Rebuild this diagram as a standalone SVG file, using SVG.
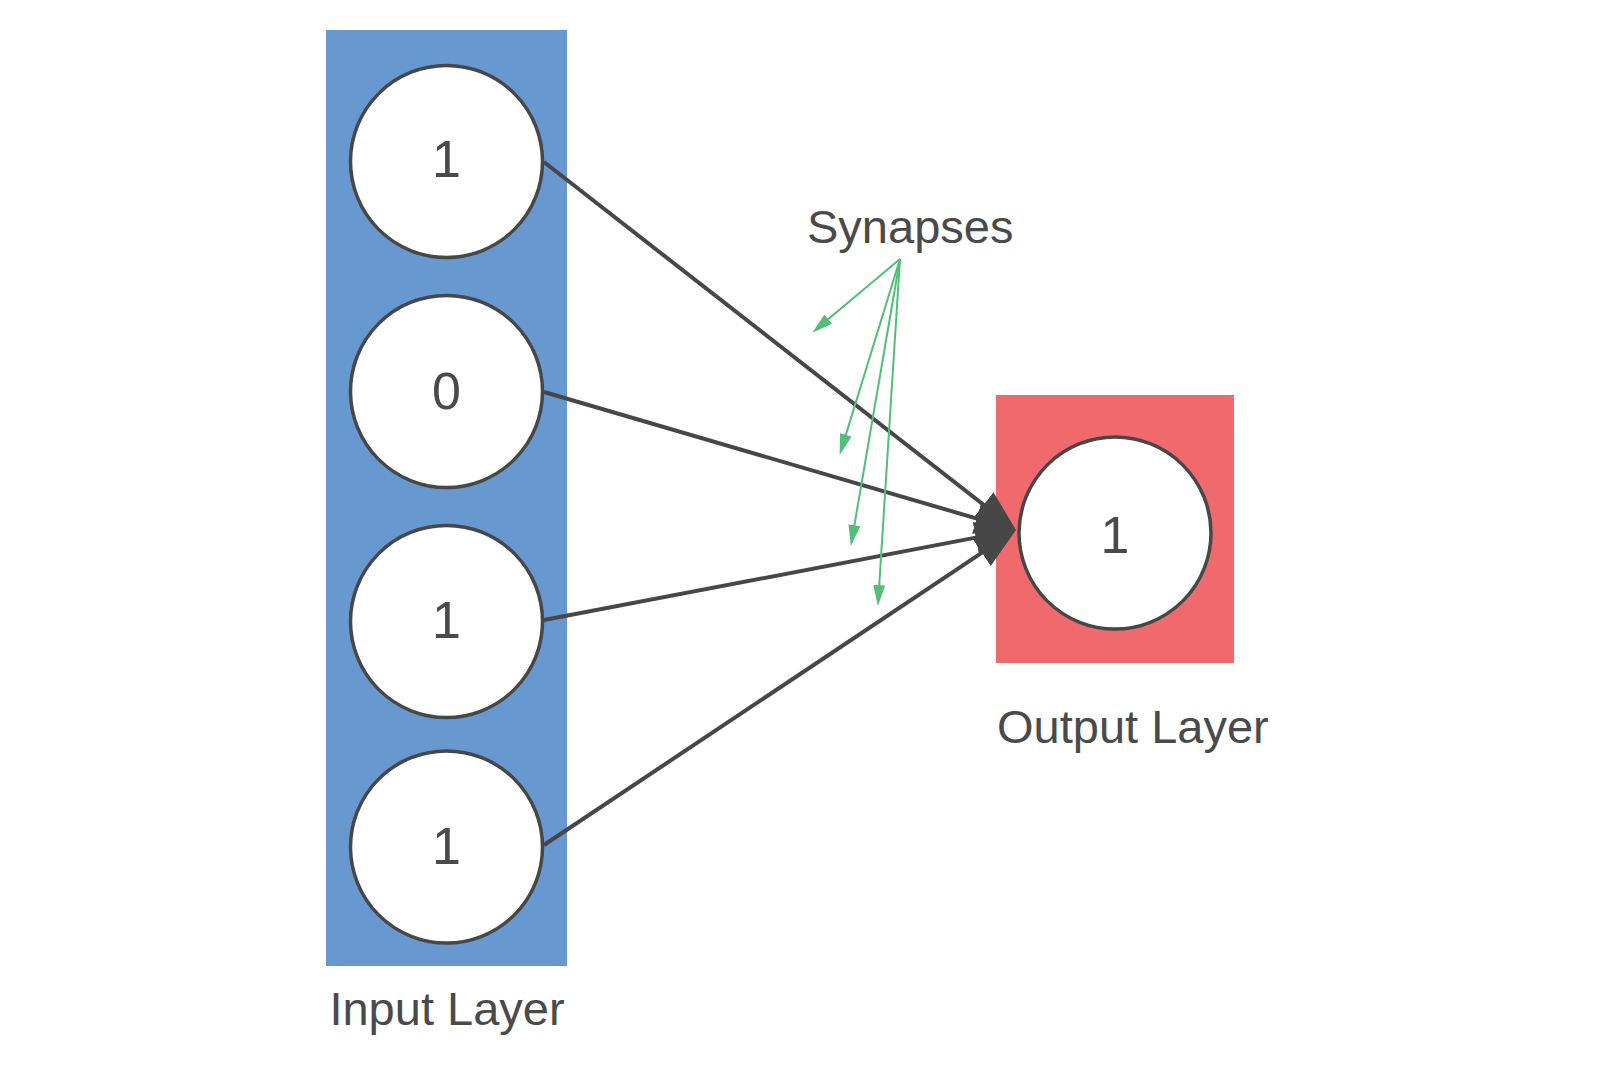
<svg xmlns="http://www.w3.org/2000/svg" width="1600" height="1066" viewBox="0 0 1600 1066">
<style>
.lbl{font-family:"Liberation Sans",Arial,sans-serif;fill:#4a4a4a}
.neuron{fill:#ffffff;stroke:#474747;stroke-width:3.5}
.num{font-size:52px;text-anchor:middle}
.layer{font-size:47px}
.edge{stroke:#474747;stroke-width:4;fill:none}
.syn{stroke:#52be78;stroke-width:2;fill:none}
</style>
<defs>
<marker id="ah" markerUnits="userSpaceOnUse" markerWidth="44" markerHeight="34" refX="20" refY="16" orient="auto">
<path d="M0,0 L41,16 L0,32 Z" fill="#474747"/>
</marker>
<marker id="gh" markerUnits="userSpaceOnUse" markerWidth="22" markerHeight="14" refX="10" refY="6" orient="auto">
<path d="M0,0 L21,6 L0,12 Z" fill="#52be78"/>
</marker>
</defs>
<rect width="1600" height="1066" fill="#ffffff"/>
<g id="input-layer">
<rect x="326" y="30" width="241" height="936" fill="#6798d0"/>
<text class="lbl layer" x="447" y="1025" text-anchor="middle">Input Layer</text>
</g>
<g id="output-layer">
<rect x="996" y="395" width="238" height="268" fill="#f06a6d"/>
<text class="lbl layer" x="997" y="743">Output Layer</text>
</g>
<g id="connectors">
<line class="edge" x1="544" y1="162" x2="999.4" y2="517.1" marker-end="url(#ah)"/>
<line class="edge" x1="544" y1="392" x2="995.8" y2="524.1" marker-end="url(#ah)"/>
<line class="edge" x1="544" y1="620" x2="995.4" y2="533.9" marker-end="url(#ah)"/>
<line class="edge" x1="544" y1="845" x2="998.5" y2="541.7" marker-end="url(#ah)"/>
<line class="syn" x1="900" y1="259" x2="820.7" y2="325.6" marker-end="url(#gh)"/>
<line class="syn" x1="900" y1="259" x2="842.9" y2="444.4" marker-end="url(#gh)"/>
<line class="syn" x1="900" y1="259" x2="852.7" y2="535.1" marker-end="url(#gh)"/>
<line class="syn" x1="900" y1="259" x2="878.6" y2="595" marker-end="url(#gh)"/>
</g>
<g id="in1">
<circle class="neuron" cx="446.5" cy="161.5" r="96"/>
<text class="lbl num" x="446.5" y="177">1</text>
</g>
<g id="in2">
<circle class="neuron" cx="446.5" cy="391.5" r="96"/>
<text class="lbl num" x="446.5" y="409">0</text>
</g>
<g id="in3">
<circle class="neuron" cx="446.5" cy="621.5" r="96"/>
<text class="lbl num" x="446.5" y="638">1</text>
</g>
<g id="in4">
<circle class="neuron" cx="446.5" cy="847" r="96"/>
<text class="lbl num" x="446.5" y="864">1</text>
</g>
<g id="out1">
<circle class="neuron" cx="1115" cy="533" r="96"/>
<text class="lbl num" x="1115" y="553">1</text>
</g>
<g id="synapses-label">
<text class="lbl layer" x="807" y="243">Synapses</text>
</g>
</svg>
